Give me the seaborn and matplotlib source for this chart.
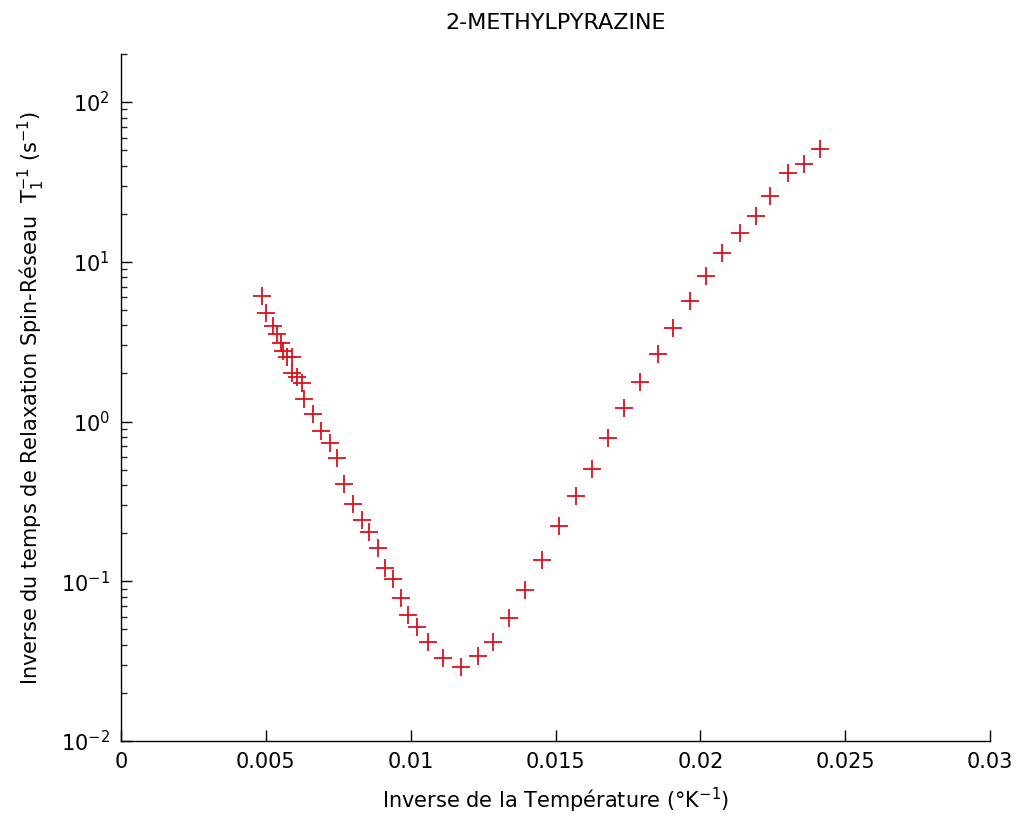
import numpy as np
import pandas as pd
import matplotlib
matplotlib.use("Agg")
import matplotlib.pyplot as plt
import seaborn as sns
from matplotlib.ticker import LogLocator, FixedLocator

inv_temp = [0.00487, 0.00501, 0.00525, 0.00539, 0.00552, 0.00559, 0.00573, 0.00590,
            0.00590, 0.00608, 0.00625, 0.00632, 0.00663, 0.00690, 0.00722, 0.00746,
            0.00770, 0.00801, 0.00832, 0.00856, 0.00887, 0.00911, 0.00939, 0.00967,
            0.00991, 0.01022, 0.01060, 0.01112, 0.01174, 0.01232, 0.01284, 0.01340,
            0.01395, 0.01453, 0.01512, 0.01571, 0.01626, 0.01681, 0.01737, 0.01792,
            0.01854, 0.01906, 0.01964, 0.02020, 0.02075, 0.02137, 0.02192, 0.02241,
            0.02303, 0.02358, 0.02413]
rate = [6.13, 4.80, 3.98, 3.55, 3.12, 2.78, 2.55, 2.55,
        2.00, 1.91, 1.75, 1.39, 1.12, 0.878, 0.739, 0.587,
        0.404, 0.303, 0.241, 0.202, 0.161, 0.121, 0.104, 0.0783,
        0.0613, 0.0516, 0.0416, 0.0330, 0.0290, 0.0340, 0.0416, 0.0587,
        0.0879, 0.135, 0.221, 0.340, 0.508, 0.794, 1.21, 1.78,
        2.66, 3.87, 5.70, 8.17, 11.4, 15.2, 19.4, 25.8,
        36.0, 41.0, 50.8]

x_ticks = [0, 0.005, 0.01, 0.015, 0.02, 0.025, 0.03]
x_tick_labels = ["0", "0.005", "0.01", "0.015", "0.02", "0.025", "0.03"]

df = pd.DataFrame({"x": inv_temp, "y": rate})

sns.set_style("ticks")
plt.rcParams['font.family'] = ['DejaVu Sans']
plt.rcParams['mathtext.default'] = 'regular'
plt.rcParams['text.color'] = 'black'
plt.rcParams['axes.labelcolor'] = 'black'

fig = plt.figure(figsize=(10.21, 8.21), dpi=100)
ax = fig.add_axes([121/1021, 1 - 741/821, 869/1021, (741-54)/821])

sns.scatterplot(data=df, x="x", y="y", marker="+", s=150, color="#e0101a",
                linewidth=1.3, ax=ax, legend=False)

ax.set_yscale("log")
ax.set_xlim(0, 0.03)
ax.set_ylim(0.01, 200)
ax.set_xticks(x_ticks)
ax.set_xticklabels(x_tick_labels)
ax.yaxis.set_major_locator(FixedLocator([1e-2, 1e-1, 1e0, 1e1, 1e2]))
ax.yaxis.set_minor_locator(LogLocator(base=10, subs=np.arange(2, 10), numticks=20))

sns.despine(ax=ax)
for s in ["left", "bottom"]:
    ax.spines[s].set_linewidth(1.0)
    ax.spines[s].set_color("black")
ax.tick_params(which="major", direction="in", length=8, width=1, labelsize=15, colors="black", pad=8)
ax.tick_params(which="minor", direction="in", length=4, width=1)

ax.set_title("2-METHYLPYRAZINE", fontsize=16, pad=18, color="black")
ax.set_xlabel("Inverse de la Température (°K$^{-1}$)", fontsize=15, labelpad=10, color="black")
ax.set_ylabel("Inverse du temps de Relaxation Spin-Réseau  T$_1^{-1}$ (s$^{-1}$)", fontsize=15, labelpad=10, color="black")

fig.savefig("out.png", dpi=100, facecolor="white")
